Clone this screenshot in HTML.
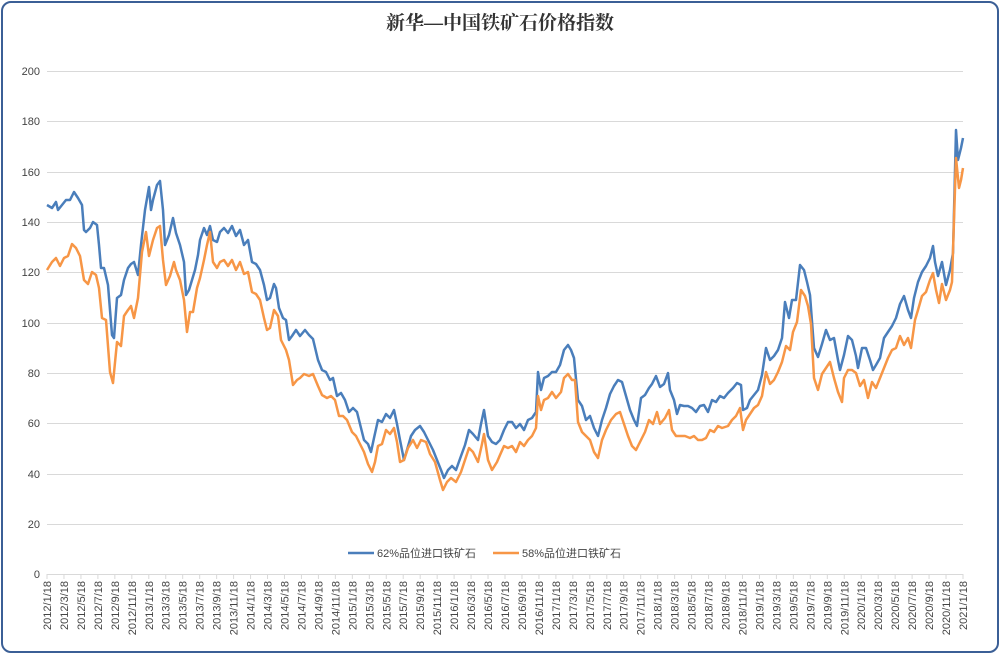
<!DOCTYPE html>
<html><head><meta charset="utf-8"><style>
body{margin:0;background:#fff;}
.frame{position:absolute;left:1px;top:1px;width:994px;height:648px;border:2px solid #3b5f96;border-radius:10px;}
</style></head><body>
<div class="frame"></div>
<svg width="1000" height="653" style="position:absolute;left:0;top:0" font-family="Liberation Sans, Noto Sans CJK SC, sans-serif">
<text x="500" y="29" text-anchor="middle" font-size="19" font-weight="bold" font-family="Liberation Serif, Noto Serif CJK SC, serif" fill="#333">新华—中国铁矿石价格指数</text>
<g stroke="#d9d9d9" stroke-width="1">
<line x1="47" x2="963" y1="71.5" y2="71.5"/><line x1="47" x2="963" y1="121.5" y2="121.5"/><line x1="47" x2="963" y1="172.5" y2="172.5"/><line x1="47" x2="963" y1="222.5" y2="222.5"/><line x1="47" x2="963" y1="272.5" y2="272.5"/><line x1="47" x2="963" y1="323.5" y2="323.5"/><line x1="47" x2="963" y1="373.5" y2="373.5"/><line x1="47" x2="963" y1="423.5" y2="423.5"/><line x1="47" x2="963" y1="474.5" y2="474.5"/><line x1="47" x2="963" y1="524.5" y2="524.5"/><line x1="47" x2="963" y1="574.5" y2="574.5"/>
</g>
<g font-size="11" fill="#444" text-anchor="end">
<text x="40" y="75">200</text><text x="40" y="125">180</text><text x="40" y="176">160</text><text x="40" y="226">140</text><text x="40" y="276">120</text><text x="40" y="327">100</text><text x="40" y="377">80</text><text x="40" y="427">60</text><text x="40" y="478">40</text><text x="40" y="528">20</text><text x="40" y="578">0</text>
</g>
<g id="xl" font-size="11" fill="#444"></g>
<polyline fill="none" stroke="#4a7ebb" stroke-width="2.5" stroke-linejoin="round" points="47,205 52,208 56,202 58,210 62,205 66,200 70,200 74,192 78,198 82,205 84,230 86,232 90,228 93,222 97,225 99,245 101,268 104,268 108,285 112,335 114,338 117,298 121,295 124,280 128,268 131,264 134,262 138,275 141,245 145,210 149,187 151,210 153,200 157,185 160,181 163,210 165,245 169,235 173,218 176,233 180,245 184,262 186,295 189,290 192,280 195,270 198,255 200,240 204,228 207,235 210,226 213,240 217,242 220,232 224,228 228,233 232,226 236,236 240,230 244,245 248,240 252,262 256,264 260,270 264,285 267,300 270,298 274,284 276,288 279,308 283,318 286,320 289,340 292,336 296,330 300,336 305,330 309,335 313,339 318,360 322,370 326,372 330,380 333,378 337,396 341,393 345,400 349,412 353,408 357,412 361,428 364,440 368,444 371,452 374,438 378,420 382,422 386,414 390,418 394,410 397,424 400,440 404,460 407,450 411,436 415,430 420,426 424,432 428,440 433,450 437,460 441,470 444,478 448,470 452,466 456,470 461,456 465,445 469,430 473,434 478,440 481,424 484,410 488,436 492,442 496,444 500,440 504,430 508,422 512,422 516,428 520,424 524,430 528,420 532,418 536,412 538,372 541,390 544,378 548,376 552,372 556,372 560,365 564,350 568,345 571,350 574,358 578,400 582,406 586,420 590,416 594,428 598,436 602,420 606,408 610,394 614,386 618,380 622,382 626,396 630,410 634,420 637,426 641,398 645,395 649,388 652,384 656,376 660,387 664,384 668,373 670,390 674,400 677,414 680,405 684,406 688,406 692,408 696,412 700,406 704,405 708,412 712,400 716,402 720,396 724,398 728,393 733,388 737,383 741,385 743,410 747,408 750,400 754,395 758,390 762,375 766,348 770,360 774,356 778,350 782,338 785,302 789,318 792,300 796,300 800,265 804,270 807,282 810,295 814,348 818,357 822,344 826,330 830,340 834,338 838,360 840,370 844,355 848,336 852,340 856,356 858,368 862,348 866,348 870,360 873,370 876,365 880,358 884,338 888,332 892,326 896,318 900,304 904,296 908,310 911,318 914,298 918,282 922,272 926,266 930,258 933,246 935,262 938,276 942,262 946,285 950,270 953,253 956,130 958,160 961,148 963,138"/>
<polyline fill="none" stroke="#f79646" stroke-width="2.5" stroke-linejoin="round" points="47,270 52,262 56,258 60,266 64,258 68,256 72,244 76,248 80,256 84,280 88,284 92,272 96,275 99,288 102,318 106,320 110,372 113,383 117,342 121,346 124,316 128,310 131,306 134,318 138,298 142,252 146,232 149,256 153,240 157,228 160,226 163,260 166,285 170,276 174,262 176,270 180,280 184,300 187,332 190,312 193,312 197,288 200,278 204,260 207,245 210,232 213,262 217,268 220,262 224,260 228,266 232,260 236,270 240,262 244,274 248,272 252,292 256,294 260,300 264,318 267,330 270,328 274,310 278,316 281,340 286,350 289,360 293,385 297,380 300,378 304,374 309,376 313,374 318,386 322,395 327,398 331,396 335,400 339,416 343,416 347,420 352,432 356,436 360,444 364,452 368,464 372,472 375,462 378,446 382,444 386,430 390,434 394,428 397,442 400,462 404,460 408,448 413,440 417,448 421,440 426,442 430,454 435,462 440,480 443,490 447,482 451,478 456,482 461,472 465,460 469,448 473,452 478,462 482,444 484,434 488,460 492,470 497,462 500,455 504,446 508,448 512,446 516,452 520,442 524,446 528,440 532,436 536,428 538,396 541,410 544,400 548,398 552,392 556,398 561,392 564,378 568,374 572,380 575,380 578,422 582,432 586,436 590,440 594,452 598,458 602,440 606,430 611,420 616,414 620,412 624,424 628,436 632,446 636,450 641,440 645,432 649,420 653,424 657,412 660,424 665,418 669,410 672,430 676,436 680,436 685,436 690,438 694,436 698,440 702,440 706,438 710,430 714,432 718,426 722,428 728,426 732,420 736,416 740,408 743,430 746,420 750,414 754,408 758,405 762,396 766,372 770,384 774,380 778,372 782,362 786,346 790,350 793,332 797,322 801,290 805,296 808,306 811,324 814,378 818,390 822,374 826,368 830,362 834,378 838,392 842,402 844,378 848,370 852,370 856,373 860,386 864,380 868,398 872,382 876,388 880,378 884,368 888,358 892,350 896,348 900,336 904,345 908,338 911,348 915,320 918,310 922,296 926,292 930,280 933,273 936,290 939,303 942,284 946,300 950,290 952,282 954,220 956,158 959,188 961,180 963,168"/>
<line x1="348" y1="553" x2="374" y2="553" stroke="#4a7ebb" stroke-width="2.5"/>
<text x="377" y="557" font-size="11" fill="#444">62%品位进口铁矿石</text>
<line x1="493" y1="553" x2="519" y2="553" stroke="#f79646" stroke-width="2.5"/>
<text x="522" y="557" font-size="11" fill="#444">58%品位进口铁矿石</text>
</svg>
<script>
var g=document.getElementById('xl'),s='';
for(var i=0;i<55;i++){var y=2012+Math.floor(i/6),m=(i%6)*2+1,x=47+i*(916/54);
s+='<line x1="'+x+'" x2="'+x+'" y1="574" y2="579" stroke="#d9d9d9"/>';
s+='<text transform="translate('+(x+4)+',581) rotate(-90)" text-anchor="end">'+y+'/'+m+'/18</text>';}
g.innerHTML=s;
</script>
</body></html>
